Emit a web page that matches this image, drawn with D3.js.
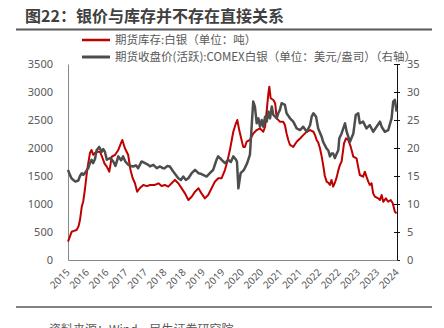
<!DOCTYPE html>
<html><head><meta charset="utf-8">
<script src="https://cdn.jsdelivr.net/npm/d3@7"></script>
<style>
html,body{margin:0;padding:0;background:#fff;}
svg{display:block;font-family:"Noto Sans CJK SC","Noto Sans",sans-serif;}
</style></head>
<body><svg id="c" width="444" height="328"></svg>
<script>
const titleText = "图22：银价与库存并不存在直接关系";
const sourceText = "资料来源：Wind，民生证券研究院";
const seriesNames = ["期货库存:白银（单位：吨）", "期货收盘价(活跃):COMEX白银（单位：美元/盎司）（右轴）"];
const leftTicks = [0,500,1000,1500,2000,2500,3000,3500];
const rightTicks = [0,5,10,15,20,25,30,35];
const xTickDates = ["2015-10-01","2016-04-01","2016-10-01","2017-04-01","2017-10-01","2018-04-01","2018-10-01","2019-04-01","2019-10-01","2020-04-01","2020-10-01","2021-04-01","2021-10-01","2022-04-01","2022-10-01","2023-04-01","2023-10-01","2024-04-01"];
const xTickLabels = ["2015","2016","2016","2017","2017","2018","2018","2019","2019","2020","2020","2021","2021","2022","2022","2023","2023","2024"];

const stockDates = ["2015-10-01","2015-11-05","2015-11-26","2015-12-21","2016-01-08","2016-01-22","2016-02-08","2016-02-22","2016-03-08","2016-03-30","2016-04-25","2016-05-10","2016-05-25","2016-06-11","2016-07-12","2016-07-28","2016-08-16","2016-09-10","2016-10-01","2016-10-25","2016-11-17","2016-12-17","2017-01-18","2017-02-13","2017-02-25","2017-03-20","2017-04-21","2017-05-13","2017-06-02","2017-06-23","2017-07-15","2017-08-10","2017-09-11","2017-10-15","2017-11-13","2017-12-30","2018-02-01","2018-03-02","2018-04-02","2018-05-04","2018-06-05","2018-07-06","2018-08-07","2018-09-08","2018-10-09","2018-11-10","2018-12-11","2019-01-12","2019-02-13","2019-03-14","2019-04-15","2019-05-16","2019-06-17","2019-07-18","2019-08-19","2019-09-20","2019-10-21","2019-11-12","2019-12-07","2020-01-08","2020-01-29","2020-02-15","2020-03-04","2020-03-26","2020-04-11","2020-04-27","2020-05-13","2020-06-13","2020-07-14","2020-08-16","2020-09-16","2020-10-17","2020-11-03","2020-11-19","2020-12-04","2020-12-13","2020-12-26","2021-01-20","2021-02-06","2021-02-21","2021-03-23","2021-04-23","2021-05-09","2021-05-25","2021-06-10","2021-06-26","2021-07-27","2021-08-28","2021-09-29","2021-10-29","2021-12-01","2022-01-02","2022-02-02","2022-02-18","2022-03-04","2022-03-19","2022-04-05","2022-04-21","2022-05-05","2022-05-21","2022-06-07","2022-06-22","2022-07-08","2022-07-23","2022-08-08","2022-08-24","2022-09-10","2022-09-25","2022-10-10","2022-10-26","2022-11-18","2022-12-07","2022-12-28","2023-01-20","2023-02-14","2023-03-16","2023-04-02","2023-04-16","2023-05-17","2023-06-03","2023-06-18","2023-07-05","2023-07-19","2023-08-05","2023-08-20","2023-09-06","2023-10-07","2023-10-23","2023-11-08","2023-11-23","2023-12-18","2024-01-09","2024-02-02","2024-02-21","2024-03-12","2024-03-28"];
const stockValues = [327,505,520,536,600,714,952,1050,1250,1607,1910,1965,1880,1910,1934,1934,1850,1720,1667,1577,1845,1875,1965,2090,2143,2000,1875,1607,1464,1375,1220,1286,1340,1320,1340,1340,1370,1322,1340,1310,1370,1430,1370,1280,1190,1071,1130,1220,1280,1190,1100,1160,1280,1398,1460,1460,1607,1756,1965,2290,2420,2500,2320,2143,2020,2020,2112,2143,2260,2320,2350,2290,2380,2680,2977,3095,2888,2857,2800,2530,2470,2470,2410,2260,2143,2054,2020,2112,2170,2230,2290,2320,2290,2230,2143,2100,1995,1850,1700,1500,1400,1380,1340,1430,1310,1380,1480,1600,1697,1756,2083,2173,2143,2024,1845,1816,1650,1518,1488,1577,1488,1400,1340,1370,1190,1130,1100,1071,1160,1040,1100,1040,1071,1012,862,833];

const priceDates = ["2015-10-01","2015-10-19","2015-11-03","2015-11-20","2015-12-10","2016-01-06","2016-01-22","2016-02-08","2016-02-22","2016-03-08","2016-03-25","2016-04-09","2016-04-25","2016-05-10","2016-05-25","2016-06-11","2016-06-27","2016-07-21","2016-08-14","2016-08-29","2016-09-14","2016-10-01","2016-11-01","2016-12-01","2016-12-22","2017-01-18","2017-02-13","2017-03-04","2017-03-25","2017-04-21","2017-05-16","2017-06-08","2017-07-03","2017-07-24","2017-08-26","2017-09-27","2017-10-28","2017-11-13","2017-12-14","2018-01-16","2018-02-16","2018-03-14","2018-04-02","2018-04-26","2018-05-19","2018-06-20","2018-08-07","2018-09-01","2018-09-23","2018-10-18","2018-11-10","2018-12-11","2019-01-12","2019-02-13","2019-03-08","2019-03-29","2019-05-01","2019-06-01","2019-07-02","2019-08-03","2019-08-18","2019-09-20","2019-10-21","2019-11-21","2019-12-16","2020-01-08","2020-02-03","2020-02-12","2020-02-25","2020-03-17","2020-04-18","2020-05-18","2020-06-13","2020-06-29","2020-07-14","2020-07-30","2020-08-16","2020-09-01","2020-09-16","2020-10-02","2020-10-17","2020-11-03","2020-11-19","2020-12-04","2020-12-20","2021-01-05","2021-01-20","2021-02-21","2021-03-07","2021-03-23","2021-04-08","2021-05-09","2021-05-25","2021-06-26","2021-07-27","2021-08-28","2021-09-29","2021-10-29","2021-12-01","2022-01-02","2022-01-17","2022-02-02","2022-02-27","2022-03-19","2022-04-21","2022-05-05","2022-05-21","2022-06-07","2022-06-22","2022-07-08","2022-07-23","2022-08-08","2022-08-24","2022-09-10","2022-09-25","2022-10-04","2022-10-26","2022-11-27","2022-12-13","2023-01-13","2023-02-14","2023-03-09","2023-04-01","2023-04-16","2023-05-17","2023-06-18","2023-07-19","2023-08-20","2023-09-21","2023-10-23","2023-11-08","2023-12-08","2024-01-09","2024-02-10","2024-02-25","2024-03-12","2024-03-28"];
const priceValues = [16.1,15.2,14.6,14.3,14.0,14.2,15.0,15.5,15.2,15.5,16.0,16.4,17.3,17.9,17.3,18.0,19.6,20.2,19.3,19.8,19.3,17.9,18.2,17.6,16.8,18.5,17.8,18.5,17.6,17.0,16.8,16.7,16.9,16.4,17.6,17.3,17.0,16.7,17.0,16.4,16.7,16.4,16.4,16.8,16.7,15.8,14.6,14.3,14.9,14.3,14.6,15.5,16.1,15.5,15.4,15.2,14.9,15.5,16.1,17.9,18.5,17.9,17.3,17.9,17.5,18.5,17.9,17.5,12.8,15.5,16.1,17.3,18.8,23.8,28.3,27.4,24.4,25.3,23.8,25.0,23.8,25.6,24.7,26.5,25.3,27.4,25.9,25.3,26.2,26.8,28.0,27.7,26.2,25.3,24.7,23.5,23.2,23.8,22.9,24.1,25.6,26.2,25.6,23.5,22.0,21.1,20.5,19.9,19.6,18.5,19.0,19.0,18.2,19.0,19.6,21.7,22.6,24.4,22.9,21.1,22.6,25.9,26.2,24.4,24.7,23.5,24.1,22.9,23.8,24.7,23.8,22.9,23.2,25.3,28.3,28.6,26.5];

const parse = d3.timeParse("%Y-%m-%d");
const svg = d3.select("#c");
const M = {l:68, r:397, t:64, b:260};
const x = d3.scaleTime().domain([parse(xTickDates[0]), parse(xTickDates[xTickDates.length-1])]).range([M.l, M.r]);
const yL = d3.scaleLinear().domain([0,3500]).range([M.b, M.t]);
const yR = d3.scaleLinear().domain([0,35]).range([M.b, M.t]);
const txt = "#595959";

// title
svg.append("text").attr("x",25).attr("y",22).attr("font-size",16).attr("font-weight","bold").attr("fill","#404040").text(titleText);
svg.append("line").attr("x1",16).attr("x2",432).attr("y1",29.5).attr("y2",29.5).attr("stroke","#595959").attr("stroke-width",2);

// left axis
const gL = svg.append("g").attr("transform",`translate(${M.l},0)`)
  .call(d3.axisLeft(yL).tickValues(leftTicks).tickSize(0).tickPadding(15).tickFormat(d3.format("d")));
gL.select(".domain").attr("stroke","#888").attr("stroke-width",1);
gL.selectAll("text").attr("fill",txt).attr("font-size",11).attr("font-family","'Noto Sans',sans-serif");

// right axis
const gR = svg.append("g").attr("transform",`translate(${M.r},0)`)
  .call(d3.axisRight(yR).tickValues(rightTicks).tickSize(3).tickPadding(7).tickFormat(d3.format("d")));
gR.select(".domain").attr("stroke","#111").attr("stroke-width",1);
gR.selectAll(".tick line").attr("stroke","#111").attr("x1",-3);
gR.selectAll("text").attr("fill",txt).attr("font-size",11).attr("font-family","'Noto Sans',sans-serif");

// bottom axis
const tickD = xTickDates.map(parse);
const gB = svg.append("g").attr("transform",`translate(0,${M.b})`)
  .call(d3.axisBottom(x).tickValues(tickD).tickSize(0).tickFormat((d,i)=>xTickLabels[i]));
gB.select(".domain").attr("stroke","#888").attr("stroke-width",1.2);
gB.selectAll("text").attr("fill",txt).attr("font-size",10).attr("font-family","'Noto Sans',sans-serif")
  .attr("text-anchor","end").attr("dy",0).attr("y",0)
  .attr("transform","translate(2,13) rotate(-45)");

// lines
const stock = stockDates.map((d,i)=>({d:parse(d), v:stockValues[i]}));
const price = priceDates.map((d,i)=>({d:parse(d), v:priceValues[i]}));
svg.append("path").datum(stock).attr("fill","none").attr("stroke","#C00000").attr("stroke-width",2)
  .attr("stroke-linejoin","round").attr("d", d3.line().x(p=>x(p.d)).y(p=>yL(p.v)));
svg.append("path").datum(price).attr("fill","none").attr("stroke","#4D4D4D").attr("stroke-width",2.5)
  .attr("stroke-linejoin","round").attr("d", d3.line().x(p=>x(p.d)).y(p=>yR(p.v)));

// legend
const lg = svg.append("g");
[["#C00000",2.5,40],["#4D4D4D",3,57]].forEach((s,i)=>{
  lg.append("line").attr("x1",82).attr("x2",110).attr("y1",s[2]).attr("y2",s[2]).attr("stroke",s[0]).attr("stroke-width",s[1]);
  lg.append("text").attr("x",115).attr("y",s[2]+4).attr("font-size",11.5).attr("fill",txt).text(seriesNames[i]);
});

// footer
svg.append("line").attr("x1",16).attr("x2",432).attr("y1",307).attr("y2",307).attr("stroke","#595959").attr("stroke-width",1.5);
svg.append("text").attr("x",49).attr("y",334).attr("font-size",12).attr("fill",txt).text(sourceText);
</script></body></html>
